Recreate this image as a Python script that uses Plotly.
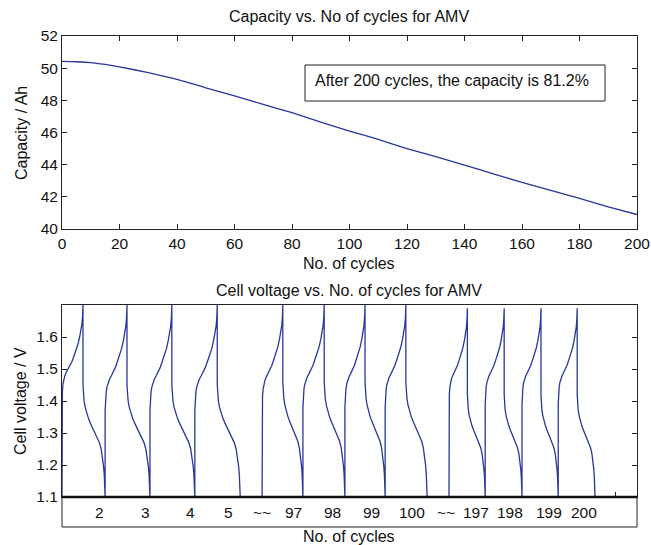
import plotly.graph_objects as go

W, H = 651, 545

# ---------------- Top chart data: capacity vs cycles ----------------
cycles = [0, 5, 10, 15, 20, 30, 40, 50, 60, 70, 80, 90, 100, 110, 120, 130, 140, 150, 160, 170, 180, 190, 200]
capacity = [50.42, 50.40, 50.35, 50.23, 50.08, 49.72, 49.30, 48.78, 48.27, 47.75, 47.23, 46.65, 46.09,
            45.57, 45.00, 44.50, 43.97, 43.43, 42.90, 42.40, 41.90, 41.38, 40.90]

# ---------------- Bottom chart data: cell voltage per cycle ----------------
# time axis in arbitrary units (0..100)
cycle_start = [0.0, 7.5, 15.3, 23.1, 34.8, 41.9, 49.2, 56.2, 67.3, 73.6, 80.0, 86.3]
cycle_peak  = [3.65, 11.3, 19.1, 27.0, 38.4, 45.6, 52.7, 59.8, 70.5, 76.9, 83.3, 89.6]
cycle_end   = [7.5, 15.3, 23.1, 31.0, 41.9, 49.2, 56.2, 63.5, 73.6, 80.0, 86.3, 92.7]
start_v     = [1.40, 1.37, 1.37, 1.37, 1.38, 1.38, 1.38, 1.38, 1.39, 1.39, 1.39, 1.39]
peak_v      = [1.70, 1.70, 1.70, 1.70, 1.70, 1.70, 1.70, 1.70, 1.69, 1.69, 1.69, 1.69]
drop_v      = [1.45, 1.45, 1.45, 1.45, 1.46, 1.46, 1.46, 1.46, 1.42, 1.42, 1.42, 1.42]

# charge / discharge profile shapes (normalised time)
charge_t = [0, 0.02, 0.05, 0.09, 0.14, 0.2, 0.28, 0.37, 0.47, 0.57, 0.67, 0.76, 0.84, 0.9, 0.95, 0.98, 1.0]
charge_v = [1.37, 1.405, 1.43, 1.445, 1.458, 1.468, 1.478, 1.49, 1.505, 1.525, 1.545, 1.565, 1.59, 1.61, 1.635, 1.66, 1.70]
dis_t = [0, 0.02, 0.05, 0.1, 0.17, 0.25, 0.34, 0.44, 0.55, 0.65, 0.74, 0.82, 0.88, 0.93, 0.96, 0.985, 1.0]
dis_v = [1.45, 1.42, 1.40, 1.38, 1.36, 1.345, 1.33, 1.315, 1.30, 1.285, 1.27, 1.25, 1.225, 1.195, 1.17, 1.13, 1.10]

cycle_labels = ["2", "3", "4", "5", "~~", "97", "98", "99", "100", "~~", "197", "198", "199", "200"]
label_x = [6.6, 14.6, 22.3, 29.0, 34.8, 40.2, 47.1, 53.9, 60.9, 66.8, 72.0, 77.9, 84.7, 90.8]

V_MIN = 1.1
LINE = "#2a369c"

# build the voltage trace
vx, vy = [], []
prev_end = None
for s, p, e, sv, pv, dv in zip(cycle_start, cycle_peak, cycle_end, start_v, peak_v, drop_v):
    if prev_end is not None and s > prev_end:
        vx += [prev_end]; vy += [V_MIN]
    vx += [s]; vy += [V_MIN]
    c0, c1 = charge_v[0], charge_v[-1]
    for t, v in zip(charge_t, charge_v):
        vx.append(s + t * (p - s))
        vy.append(sv + (v - c0) * (pv - sv) / (c1 - c0))
    d0, d1 = dis_v[0], dis_v[-1]
    for t, v in zip(dis_t, dis_v):
        vx.append(p + t * (e - p))
        vy.append(V_MIN + (v - d1) * (dv - V_MIN) / (d0 - d1))
    prev_end = e

fig = go.Figure()
fig.add_trace(go.Scatter(x=cycles, y=capacity, mode="lines", line=dict(color=LINE, width=1.3, shape="spline", smoothing=0.5),
                         xaxis="x", yaxis="y", showlegend=False))
fig.add_trace(go.Scatter(x=vx, y=vy, mode="lines", line=dict(color=LINE, width=1.3),
                         xaxis="x2", yaxis="y2", showlegend=False))

FONT = "Liberation Sans, Arial, sans-serif"
FS = 15.5
FT = 16
xl, xr = 62 / W, 637 / W

def py(p):
    return 1 - p / H

axis_common = dict(showgrid=False, zeroline=False, showline=True, linecolor="#222", linewidth=1, automargin=False,
                   ticks="inside", ticklen=5, tickcolor="#222", tickfont=dict(size=FS, color="#111", family=FONT))

fig.update_layout(
    template="none",
    width=W, height=H, autosize=False, margin=dict(l=0, r=0, t=0, b=0, pad=0),
    paper_bgcolor="white", plot_bgcolor="white",
    font=dict(family=FONT, color="#111"),
    xaxis=dict(domain=[xl, xr], range=[0, 200], tickvals=[0, 20, 40, 60, 80, 100, 120, 140, 160, 180, 200],
               mirror="ticks", anchor="y", **axis_common),
    yaxis=dict(domain=[py(229), py(36)], range=[40, 52], tickvals=[40, 42, 44, 46, 48, 50, 52],
               mirror="ticks", anchor="x", **axis_common),
    xaxis2=dict(domain=[xl, xr], range=[0, 100], tickvals=[96.3], showticklabels=False,
                mirror=True, anchor="y2", **axis_common),
    yaxis2=dict(domain=[py(497), py(305)], range=[1.1, 1.7], tickvals=[1.1, 1.2, 1.3, 1.4, 1.5, 1.6],
                ticktext=["1.1", "1.2", "1.3", "1.4", "1.5", "1.6"],
                mirror="ticks", anchor="x2", **axis_common),
)

shapes = [
    # annotation box (top chart)
    dict(type="rect", xref="paper", yref="paper", x0=305 / W, x1=605 / W, y0=py(101), y1=py(65),
         line=dict(color="#222", width=1), fillcolor="white", layer="above"),
    # label strip under bottom chart
    dict(type="rect", xref="paper", yref="paper", x0=xl, x1=xr, y0=py(527), y1=py(497),
         line=dict(color="#222", width=1), fillcolor="white"),
    # thick baseline
    dict(type="line", xref="paper", yref="paper", x0=xl, x1=xr, y0=py(497), y1=py(497),
         line=dict(color="#111", width=2.5)),
]
fig.update_layout(shapes=shapes)

def txt(text, x, y, xref="paper", angle=0, xanchor="center", size=FT):
    return dict(text=text, xref=xref, yref="paper", x=x, y=y, textangle=angle, showarrow=False,
                xanchor=xanchor, yanchor="middle", font=dict(size=size))

ann = [
    txt("Capacity vs. No of cycles for AMV", 349 / W, py(17)),
    txt("No. of cycles", 349 / W, py(263)),
    txt("Capacity / Ah", 22 / W, py(133), angle=-90),
    txt("After 200 cycles, the capacity is 81.2%", 313 / W, py(81), xanchor="left"),
    txt("Cell voltage vs. No. of cycles for AMV", 349 / W, py(290)),
    txt("Cell voltage / V", 20 / W, py(401), angle=-90),
    txt("No. of cycles", 349 / W, py(536)),
]
for lab, lx in zip(cycle_labels, label_x):
    ann.append(txt(lab, lx, py(512), xref="x2", size=FS))
fig.update_layout(annotations=ann)

fig.write_html("out.html")
